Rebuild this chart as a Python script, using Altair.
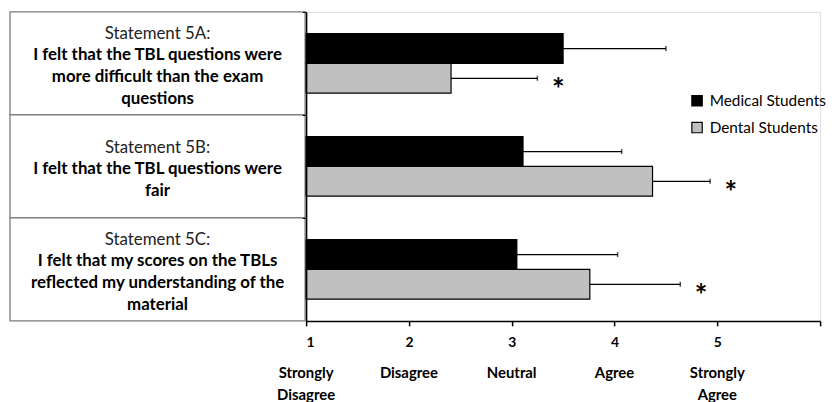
import altair as alt
import pandas as pd

# ---- data ----
statements = ["5A", "5B", "5C"]
headers = ["Statement 5A:", "Statement 5B:", "Statement 5C:"]
bodies = [
    ["I felt that the TBL questions  were", "more difficult than the exam", "questions"],
    ["I felt that the TBL questions  were", "fair"],
    ["I felt that my scores on the TBLs", "reflected my understanding  of the", "material"],
]
groups = ["Medical Students", "Dental Students"]
medical_mean = [3.50, 3.11, 3.05]
medical_sd = [1.00, 0.96, 0.98]
dental_mean = [2.41, 4.37, 3.76]
dental_sd = [0.84, 0.56, 0.88]
dental_sig = [True, True, True]
medical_sig = [False, False, False]
scale_values = [1, 2, 3, 4, 5]
scale_labels = ["Strongly\nDisagree", "Disagree", "Neutral", "Agree", "Strongly\nAgree"]

FONT = "Lato"
LH = 22
W, H = 519, 312
BAND = H / len(statements)

rows = []
for i, s in enumerate(statements):
    rows.append({"stmt": s, "group": groups[0], "mean": medical_mean[i], "sd": medical_sd[i], "sig": medical_sig[i]})
    rows.append({"stmt": s, "group": groups[1], "mean": dental_mean[i], "sd": dental_sd[i], "sig": dental_sig[i]})
bars_df = pd.DataFrame(rows)

table_df = pd.DataFrame({
    "stmt": statements,
    "header": headers,
    "body": ["\n".join(b) for b in bodies],
    "nbody": [len(b) for b in bodies],
})

likert_df = pd.DataFrame({"val": scale_values, "lab": scale_labels})

# ---- encodings ----
x_scale = alt.Scale(domain=[1, 6], nice=False, zero=False)
x_axis = alt.Axis(
    values=[1, 2, 3, 4, 5, 6], title=None, grid=False,
    labelExpr="datum.value <= 5 ? datum.label : ''",
    labelFont=FONT, labelFontWeight="bold", labelFontSize=14, labelColor="black",
    labelPadding=10, tickSize=5, tickColor="black", tickWidth=1.5,
    domainColor="black", domainWidth=1.5,
)
y_enc = alt.Y(
    "stmt:N", sort=statements, title=None,
    scale=alt.Scale(paddingInner=0, paddingOuter=0),
    axis=alt.Axis(labels=False, ticks=True, bandPosition=0, tickSize=4,
                  tickColor="black", domainColor="black", domainWidth=1.5, grid=False),
)
yoff = alt.YOffset("group:N", sort=groups,
                   scale=alt.Scale(domain=groups, paddingInner=0, paddingOuter=0.733))
color = alt.Color(
    "group:N", sort=groups,
    scale=alt.Scale(domain=groups, range=["#000000", "#c0c0c0"]),
    legend=alt.Legend(
        title=None, orient="none", legendX=387, legendY=82,
        symbolType="square", symbolSize=110, symbolStrokeColor="black",
        symbolStrokeWidth=1.2, labelFont=FONT, labelFontSize=15.5,
        labelColor="black", rowPadding=10, labelOffset=5,
    ),
)

base = alt.Chart(bars_df)

bars = base.mark_bar(stroke="black", strokeWidth=1.2).encode(
    x=alt.X("mean:Q", scale=x_scale, axis=x_axis),
    x2=alt.datum(1),
    y=y_enc, yOffset=yoff, color=color,
)

err = base.transform_calculate(upper="datum.mean + datum.sd").mark_rule(
    color="black", strokeWidth=1.2
).encode(
    x=alt.X("mean:Q", scale=x_scale, axis=x_axis),
    x2="upper:Q", y=y_enc, yOffset=yoff,
)

caps = base.transform_calculate(upper="datum.mean + datum.sd").mark_tick(
    color="black", thickness=1.5, size=5, orient="vertical"
).encode(
    x=alt.X("upper:Q", scale=x_scale, axis=x_axis),
    y=y_enc, yOffset=yoff,
)

stars = base.transform_calculate(
    upper="datum.mean + datum.sd", star="datum.sig ? '*' : ''"
).mark_text(
    font=FONT, fontSize=30, fontWeight="bold", color="black",
    align="center", baseline="middle", dx=21, dy=7,
).encode(
    x=alt.X("upper:Q", scale=x_scale, axis=x_axis),
    y=y_enc, yOffset=yoff, text="star:N",
)

tbl = alt.Chart(table_df)
boxes = tbl.mark_rect(fill="white", stroke="#7a7a7a", strokeWidth=1.3).encode(
    y=y_enc, x=alt.value(-299), x2=alt.value(-1),
)
head_txt = tbl.transform_calculate(
    hoff=f"{BAND} / 2 - datum.nbody * {LH} / 2 + 3"
).mark_text(
    font=FONT, fontSize=17, color="#222222", align="center", baseline="middle",
).encode(
    y=y_enc, x=alt.value(-150), text="header:N",
    yOffset=alt.YOffset("hoff:Q", scale=None),
)
body_txt = tbl.transform_calculate(
    boff=f"{BAND} / 2 - datum.nbody * {LH} / 2 + 3 + {LH}"
).mark_text(
    font=FONT, fontSize=17, fontWeight="bold", color="black", align="center",
    baseline="middle", lineBreak="\n", lineHeight=LH,
).encode(
    y=y_enc, x=alt.value(-150), text="body:N",
    yOffset=alt.YOffset("boff:Q", scale=None),
)

likert = alt.Chart(likert_df).mark_text(
    font=FONT, fontSize=15, fontWeight="bold", color="black", align="center",
    baseline="top", lineBreak="\n", lineHeight=22,
).encode(
    x=alt.X("val:Q", scale=x_scale, axis=x_axis),
    y=alt.value(H + 46), text="lab:N",
)

chart = alt.layer(boxes, head_txt, body_txt, bars, err, caps, stars, likert).resolve_scale(
    yOffset="independent"
).properties(
    width=W, height=H,
    autosize=alt.AutoSizeParams(type="none"),
    padding={"left": 301, "top": 2, "right": 11, "bottom": 90},
).configure_view(stroke=None).configure(background="white")

chart.save("out.html", embed_options={"renderer": "svg", "actions": False})
